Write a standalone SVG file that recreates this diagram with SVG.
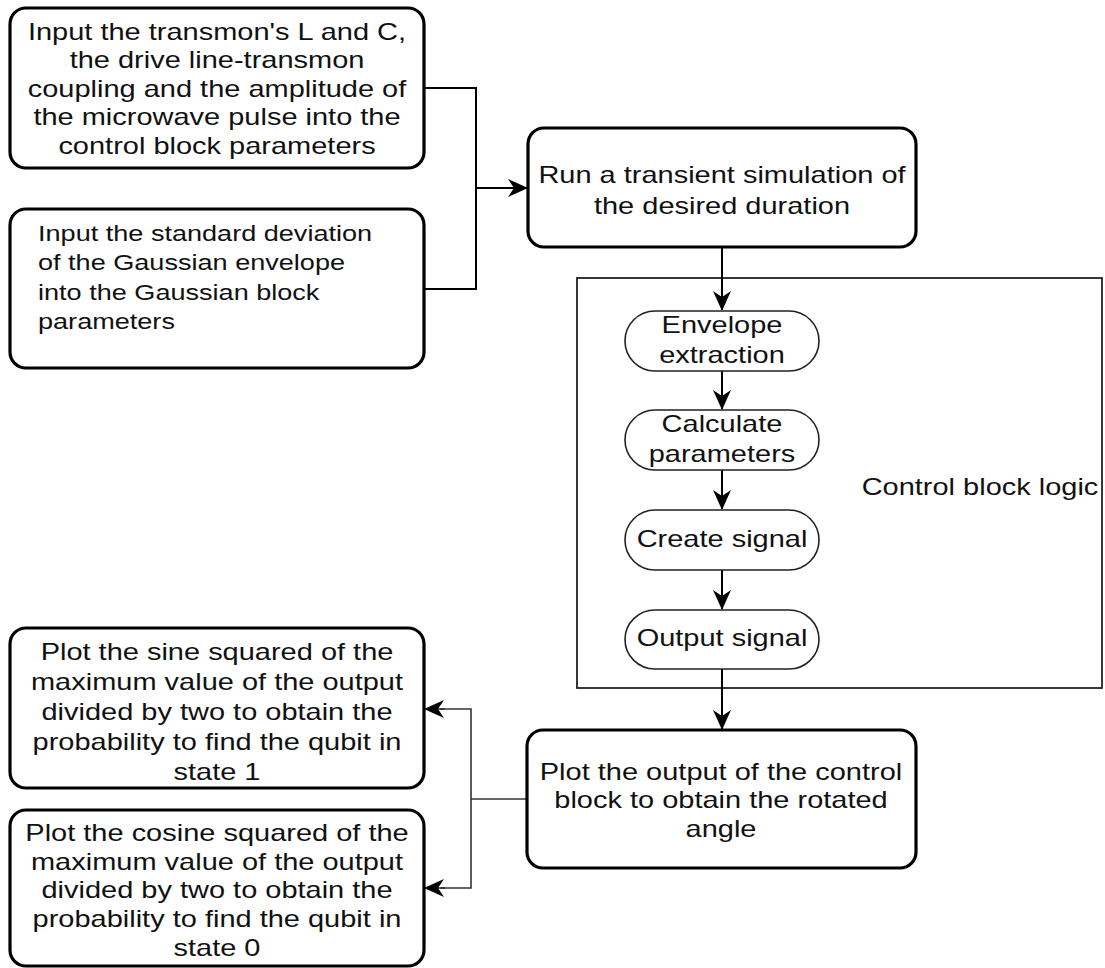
<svg xmlns="http://www.w3.org/2000/svg" width="1105" height="968" viewBox="0 0 1105 968">
<defs>
<style>
.box{fill:#fff;stroke:#000;stroke-width:3.2}
.stad{fill:#fff;stroke:#222;stroke-width:1.6}
.cont{fill:none;stroke:#222;stroke-width:1.8}
.t{font-family:"Liberation Sans",Arial,sans-serif;font-size:23px;fill:#111}
.c{text-anchor:middle}
.ln{fill:none;stroke:#000;stroke-width:2}
.ln2{fill:none;stroke:#333;stroke-width:1.6}
</style>
<marker id="arr" viewBox="0 0 20 18" refX="19" refY="9" markerWidth="20" markerHeight="18" markerUnits="userSpaceOnUse" orient="auto" overflow="visible">
<path d="M0,0 L20,9 L0,18 L6,9 z" fill="#000"/>
</marker>
</defs>

<g id="container">
<rect class="cont" x="577" y="278" width="525" height="410"/>
<text class="t c" transform="translate(980,495) scale(1.26,1)">Control block logic</text>
</g>

<g id="connectors">
<polyline class="ln" points="424,88 476,88 476,289 424,289"/>
<line class="ln" x1="476" y1="188" x2="527" y2="188" marker-end="url(#arr)"/>
<line class="ln" x1="722" y1="248" x2="722" y2="310" marker-end="url(#arr)"/>
<line class="ln" x1="722" y1="371" x2="722" y2="409" marker-end="url(#arr)"/>
<line class="ln" x1="722" y1="470" x2="722" y2="509" marker-end="url(#arr)"/>
<line class="ln" x1="722" y1="570" x2="722" y2="609" marker-end="url(#arr)"/>
<line class="ln" x1="722" y1="669" x2="722" y2="729" marker-end="url(#arr)"/>
<polyline class="ln2" points="527,799 471,799"/>
<polyline class="ln2" points="440,709 471,709 471,888 440,888"/>
<line class="ln2" x1="445" y1="709" x2="425" y2="709" marker-end="url(#arr)"/>
<line class="ln2" x1="445" y1="888" x2="425" y2="888" marker-end="url(#arr)"/>
</g>

<g id="node-input-lc">
<rect class="box" x="10" y="8" width="414" height="160" rx="16"/>
<text class="t c" transform="translate(217,40) scale(1.26,1)"><tspan x="0" dy="0">Input the transmon's L and C,</tspan><tspan x="0" dy="28.5">the drive line-transmon</tspan><tspan x="0" dy="28.5">coupling and the amplitude of</tspan><tspan x="0" dy="28.5">the microwave pulse into the</tspan><tspan x="0" dy="28.5">control block parameters</tspan></text>
</g>

<g id="node-input-gauss">
<rect class="box" x="10" y="209" width="414" height="159" rx="16"/>
<text class="t" style="font-size:21.5px" transform="translate(38,241) scale(1.26,1)"><tspan x="0" dy="0">Input the standard deviation</tspan><tspan x="0" dy="29.5">of the Gaussian envelope</tspan><tspan x="0" dy="29.5">into the Gaussian block</tspan><tspan x="0" dy="29.5">parameters</tspan></text>
</g>

<g id="node-run">
<rect class="box" x="528" y="128" width="388" height="119" rx="16"/>
<text class="t c" transform="translate(722,183) scale(1.26,1)"><tspan x="0" dy="0">Run a transient simulation of</tspan><tspan x="0" dy="31">the desired duration</tspan></text>
</g>

<g id="node-envelope">
<rect class="stad" x="625" y="311" width="194" height="60" rx="30" ry="30"/>
<text class="t c" transform="translate(722,333) scale(1.26,1)"><tspan x="0" dy="0">Envelope</tspan><tspan x="0" dy="30">extraction</tspan></text>
</g>

<g id="node-calc">
<rect class="stad" x="625" y="410" width="194" height="60" rx="30" ry="30"/>
<text class="t c" transform="translate(722,432) scale(1.26,1)"><tspan x="0" dy="0">Calculate</tspan><tspan x="0" dy="30">parameters</tspan></text>
</g>

<g id="node-create">
<rect class="stad" x="625" y="510" width="194" height="60" rx="30" ry="30"/>
<text class="t c" transform="translate(722,547) scale(1.26,1)">Create signal</text>
</g>

<g id="node-output">
<rect class="stad" x="625" y="610" width="194" height="59" rx="30" ry="30"/>
<text class="t c" transform="translate(722,646) scale(1.26,1)">Output signal</text>
</g>

<g id="node-plot-angle">
<rect class="box" x="527" y="730" width="389" height="138" rx="16"/>
<text class="t c" transform="translate(721,780) scale(1.26,1)"><tspan x="0" dy="0">Plot the output of the control</tspan><tspan x="0" dy="28.5">block to obtain the rotated</tspan><tspan x="0" dy="28.5">angle</tspan></text>
</g>

<g id="node-plot-sine">
<rect class="box" x="10" y="628" width="414" height="160" rx="16"/>
<text class="t c" transform="translate(217,660) scale(1.26,1)"><tspan x="0" dy="0">Plot the sine squared of the</tspan><tspan x="0" dy="30">maximum value of the output</tspan><tspan x="0" dy="30">divided by two to obtain the</tspan><tspan x="0" dy="30">probability to find the qubit in</tspan><tspan x="0" dy="30">state 1</tspan></text>
</g>

<g id="node-plot-cosine">
<rect class="box" x="10" y="810" width="414" height="156" rx="16"/>
<text class="t c" transform="translate(217,841) scale(1.26,1)"><tspan x="0" dy="0">Plot the cosine squared of the</tspan><tspan x="0" dy="28.7">maximum value of the output</tspan><tspan x="0" dy="28.7">divided by two to obtain the</tspan><tspan x="0" dy="28.7">probability to find the qubit in</tspan><tspan x="0" dy="28.7">state 0</tspan></text>
</g>
</svg>
